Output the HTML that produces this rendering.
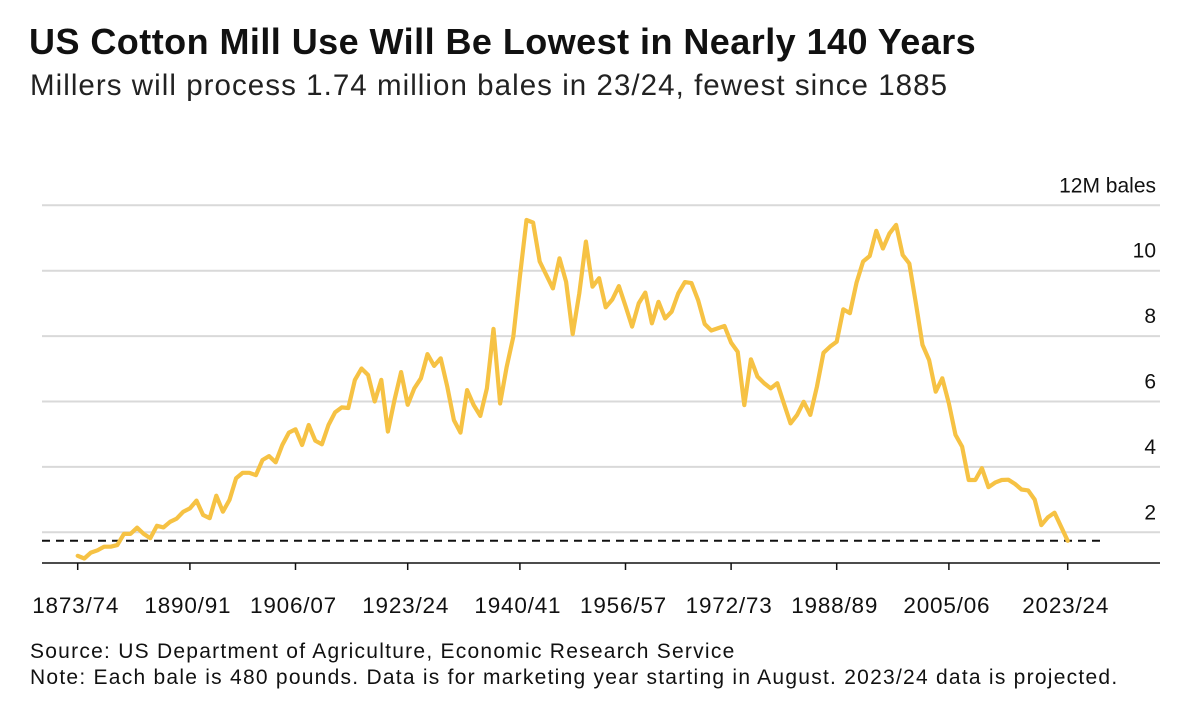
<!DOCTYPE html>
<html><head><meta charset="utf-8"><style>
body{margin:0;background:#fff;width:1200px;height:720px;overflow:hidden;font-family:"Liberation Sans",Arial,sans-serif;color:#111}
#t{position:absolute;left:29px;top:21px;font-size:36px;font-weight:bold;letter-spacing:0.45px;white-space:nowrap}
#s{position:absolute;left:30px;top:69px;font-size:29.5px;color:#222;letter-spacing:1.05px;white-space:nowrap}
.n{position:absolute;left:30px;font-size:21px;color:#111;letter-spacing:1.25px;white-space:nowrap}
svg{position:absolute;left:0;top:0}
</style></head><body>
<div id="t">US Cotton Mill Use Will Be Lowest in Nearly 140 Years</div>
<div id="s">Millers will process 1.74 million bales in 23/24, fewest since 1885</div>
<svg id="c" width="1200" height="720"></svg>
<div class="n" style="top:640px">Source: US Department of Agriculture, Economic Research Service</div>
<div class="n" style="top:666px">Note: Each bale is 480 pounds. Data is for marketing year starting in August. 2023/24 data is projected.</div>
<script>
const startYear=1873;
const values=[1.28,1.2,1.38,1.45,1.56,1.56,1.61,1.95,1.95,2.14,1.95,1.82,2.2,2.15,2.32,2.42,2.63,2.73,2.97,2.53,2.43,3.12,2.63,2.99,3.65,3.82,3.82,3.75,4.21,4.33,4.14,4.67,5.05,5.15,4.67,5.28,4.8,4.69,5.28,5.67,5.82,5.8,6.66,7.01,6.81,6.0,6.66,5.08,6.05,6.9,5.9,6.4,6.71,7.45,7.09,7.32,6.45,5.43,5.05,6.35,5.89,5.56,6.4,8.22,5.94,7.06,7.98,9.82,11.55,11.47,10.28,9.87,9.46,10.38,9.66,8.06,9.31,10.89,9.51,9.77,8.88,9.12,9.53,8.92,8.29,9.0,9.33,8.39,9.05,8.54,8.75,9.31,9.65,9.62,9.1,8.37,8.17,8.24,8.31,7.8,7.52,5.89,7.29,6.76,6.56,6.4,6.56,5.94,5.33,5.59,5.99,5.59,6.45,7.49,7.68,7.83,8.82,8.7,9.63,10.28,10.45,11.22,10.68,11.14,11.4,10.48,10.22,9.0,7.73,7.27,6.3,6.71,5.94,4.98,4.62,3.6,3.6,3.96,3.38,3.52,3.6,3.61,3.48,3.31,3.28,3.0,2.22,2.46,2.6,2.17,1.74];
const yTicks=[2,4,6,8,10,12];
const xTickYears=[1873,1890,1906,1923,1940,1956,1972,1988,2005,2023];
const xTickLabels=["1873/74","1890/91","1906/07","1923/24","1940/41","1956/57","1972/73","1988/89","2005/06","2023/24"];
const refValue=1.74;
const X=yr=>77.7+(yr-1873)*6.6;
const Y=v=>532.3-(v-2)*32.7;
const svg=document.getElementById('c');const NS='http://www.w3.org/2000/svg';
function mk(t,a){const e=document.createElementNS(NS,t);for(const k in a)e.setAttribute(k,a[k]);svg.appendChild(e);return e;}
yTicks.forEach(v=>{
 const g=mk('line',{x1:42,x2:1160,y1:Y(v),y2:Y(v),stroke:'#d9d9d9','stroke-width':2});
 
 
 const t=mk('text',{x:1156,y:Y(v)-13,'text-anchor':'end','font-size':21,fill:'#111'});
 t.textContent=v===12?'12M bales':String(v);
 
 
});
const ax=mk('line',{x1:42,x2:1160,y1:563,y2:563,stroke:'#111','stroke-width':1.5});


xTickYears.forEach((yr,i)=>{
 const tk=mk('line',{x1:X(yr),x2:X(yr),y1:563,y2:570,stroke:'#111','stroke-width':1.5});
 
 
 const t=mk('text',{x:X(yr)-2,y:613,'text-anchor':'middle','font-size':22.5,'letter-spacing':0.8,fill:'#111'});
 t.textContent=xTickLabels[i];
 
 
});
const d=mk('line',{x1:42,x2:1105,y1:Y(refValue),y2:Y(refValue),stroke:'#111','stroke-width':2,'stroke-dasharray':'8,6'});


const pts=values.map((v,i)=>X(startYear+i).toFixed(1)+','+Y(v).toFixed(1)).join(' ');
const pl=mk('polyline',{points:pts,fill:'none',stroke:'#f6c244','stroke-width':4.2,'stroke-linejoin':'round','stroke-linecap':'round'});


</script>
</body></html>
